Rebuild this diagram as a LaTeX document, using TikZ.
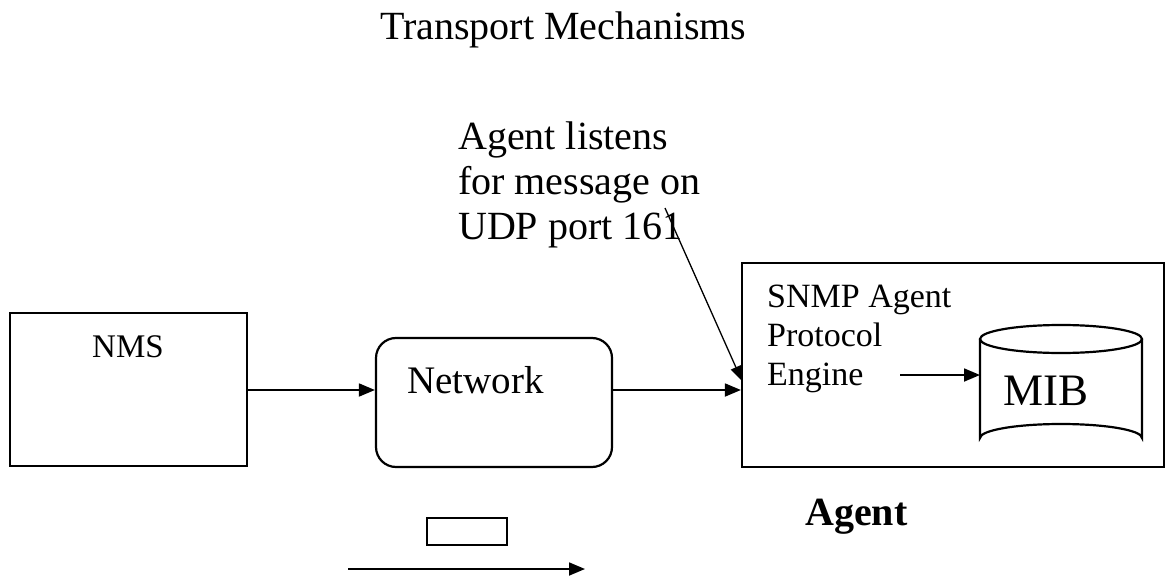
\documentclass[tikz,border=0pt]{standalone}
\usepackage{fontspec}
\setmainfont{Liberation Serif}
\usetikzlibrary{arrows.meta}

\tikzset{
  box/.style={draw, line width=2.2pt, inner sep=0pt},
  txt/.style={inner sep=0pt, anchor=base west},
  block/.style={inner sep=0pt, anchor=north west, align=left},
  arr/.style={line width=1.8pt, -{Triangle[length=16pt,width=13pt]}},
  thin arr/.style={line width=1.3pt, -{Triangle[length=15pt,width=11pt]}},
}

\newcommand{\fs}[1]{\fontsize{#1}{#1}\selectfont}

\begin{document}
\begin{tikzpicture}[x=1pt,y=-1pt]
\useasboundingbox (0,0) rectangle (1167,580);

% title
\node[txt] (title) at (380,40) {\fs{40}Transport Mechanisms};

% manager station
\node[box, minimum width=237pt, minimum height=153pt] (nms) at (128.5,389.5) {};
\node[txt] (nmslbl) at (92,357) {\fs{33}NMS};

% network box
\node[box, rounded corners=20pt, minimum width=236pt, minimum height=129pt] (net) at (494,402.5) {};
\node[txt] (netlbl) at (407,393) {\fs{39}Network};

% agent box
\node[box, minimum width=422pt, minimum height=204pt] (agent) at (953,365) {};
\node[block, font={\fontsize{34}{39}\selectfont}] (engine) at (767,285)
  {SNMP Agent\\Protocol\\Engine};

% MIB database cylinder
\draw[line width=2.2pt] (980,339) -- (980,438)
  arc[start angle=180, end angle=360, x radius=81, y radius=14]
  -- (1142,339);
\draw[line width=2.2pt] (1061,339) ellipse[x radius=81, y radius=14];
\node[txt] (mib) at (1003,405) {\fs{45}MIB};
\coordinate (mibin) at (980,375);
\coordinate (engout) at (900,375);

% agent caption
\node[txt] (agentlbl) at (805,525) {\fs{40}\bfseries Agent};

% annotation
\node[block, font={\fontsize{40}{45}\selectfont}] (note) at (458,122)
  {Agent listens\\for message on\\UDP port 161};
\coordinate (notestart) at (665,208);
\coordinate (port) at (742,381);

% legend
\node[box, minimum width=80pt, minimum height=27pt] (legbox) at (467,531.5) {};
\coordinate (legstart) at (348,569);
\coordinate (legend) at (585,569);

% connectors
\draw[arr] (nms.east |- 0,390) -- (net.west |- 0,390);
\draw[arr] (net.east |- 0,390) -- (agent.west |- 0,390);
\draw[arr] (engout) -- (mibin);
\draw[thin arr] (notestart) -- (port);
\draw[arr] (legstart) -- (legend);
\end{tikzpicture}
\end{document}
